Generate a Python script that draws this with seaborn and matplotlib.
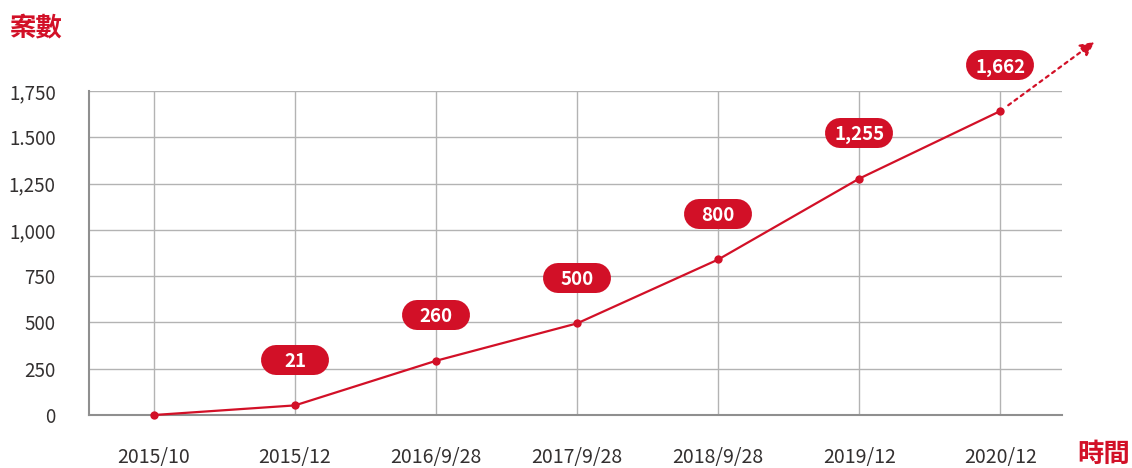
import pandas as pd
import seaborn as sns
import matplotlib.pyplot as plt
from matplotlib.offsetbox import DrawingArea, AnnotationBbox
from matplotlib.lines import Line2D
from matplotlib.text import Text

dates = ["2015/10", "2015/12", "2016/9/28", "2017/9/28", "2018/9/28", "2019/12", "2020/12"]
cases = [0, 52, 293, 495, 840, 1277, 1642]
case_labels = ["", "21", "260", "500", "800", "1,255", "1,662"]
y_ticks = [0, 250, 500, 750, 1000, 1250, 1500, 1750]
y_tick_labels = ["0", "250", "500", "750", "1,000", "1,250", "1.500", "1,750"]

RED = "#d21027"
TEXT = "#333030"

df = pd.DataFrame({"idx": range(len(dates)), "date": dates, "cases": cases})

sns.set_theme(style="whitegrid")
plt.rcParams["font.family"] = ["Noto Sans CJK TC", "DejaVu Sans"]

fig = plt.figure(figsize=(11.32, 4.68), dpi=100)
ax = fig.add_axes([0.0786, 0.1132, 0.8594, 0.6924])

sns.lineplot(data=df, x="idx", y="cases", color=RED, lw=1.6, marker="o",
             markersize=6, markeredgewidth=0, ax=ax, zorder=3, clip_on=False)

# dotted trend arrow after the last point
ax.annotate("", xy=(df.idx.iloc[-1], df.cases.iloc[-1]), xytext=(94, 69),
            textcoords="offset pixels",
            arrowprops=dict(arrowstyle="<|-,head_length=0.7,head_width=0.35",
                            color=RED, lw=1.6, linestyle=(0, (1.5, 2)),
                            shrinkA=0, shrinkB=4),
            annotation_clip=False)

# pill labels: a thick line with round caps gives fixed-size pills
W, H = 49, 21.6
r = H / 2
for i, lab in enumerate(case_labels):
    if not lab:
        continue
    da = DrawingArea(W, H, 0, 0)
    da.add_artist(Line2D([r, W - r], [r, r], lw=H, color=RED,
                         solid_capstyle="round"))
    da.add_artist(Text(W / 2, r, lab, color="white", fontsize=13.5,
                       fontweight="bold", ha="center", va="center_baseline"))
    ab = AnnotationBbox(da, (i, cases[i]), xybox=(0, 33), boxcoords="offset points",
                        frameon=False, pad=0, box_alignment=(0.5, 0.5))
    ab.set_zorder(5)
    ax.add_artist(ab)

ax.set_xlim(-0.46, 6.435)
ax.set_ylim(0, 1750)
ax.set_xticks(df.idx)
ax.set_xticklabels(dates)
ax.set_yticks(y_ticks)
ax.set_yticklabels(y_tick_labels)
ax.tick_params(axis="x", length=0, pad=23, labelsize=14, labelcolor=TEXT)
ax.tick_params(axis="y", length=0, pad=24, labelsize=13.5, labelcolor=TEXT)
ax.set_xlabel("")
ax.set_ylabel("")
ax.grid(True, color="#b3b3b3", lw=1)
for s in ["top", "right"]:
    ax.spines[s].set_visible(False)
for s in ["left", "bottom"]:
    ax.spines[s].set_color("#8f8f8f")
    ax.spines[s].set_linewidth(1.5)

fig.text(10 / 1132, 1 - 29 / 468, "案數", color=RED, fontsize=19,
         fontweight="bold", ha="left", va="center")
fig.text(1130 / 1132, 1 - 454 / 468, "時間", color=RED, fontsize=19,
         fontweight="bold", ha="right", va="center")

fig.savefig("out.png", dpi=100)
